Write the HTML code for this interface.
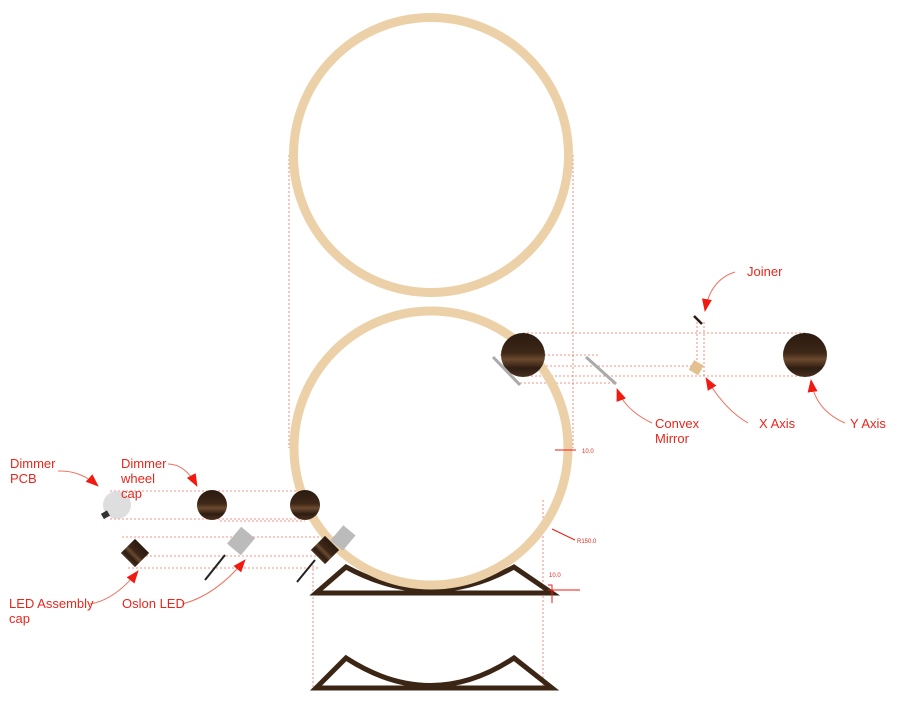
<!DOCTYPE html>
<html><head><meta charset="utf-8"><style>
html,body{margin:0;padding:0;background:#fff}
svg{display:block}
text{font-family:"Liberation Sans",sans-serif;fill:#e8261c}
</style></head><body>
<svg width="900" height="702" viewBox="0 0 900 702">
<defs>
<linearGradient id="wood" x1="0" y1="0" x2="0" y2="1">
<stop offset="0" stop-color="#2a1a10"/><stop offset="0.45" stop-color="#3d2717"/><stop offset="0.6" stop-color="#6b4a2e"/><stop offset="0.8" stop-color="#2e1d12"/><stop offset="1" stop-color="#4a3020"/>
</linearGradient>
<marker id="ah" markerWidth="14" markerHeight="14" refX="12" refY="6" orient="auto" markerUnits="userSpaceOnUse"><path d="M0,1 L13,6 L0,11 Z" fill="#f01a10"/></marker>
</defs>
<g stroke="#f07060" stroke-width="0.8" stroke-dasharray="2,2" fill="none">
<line x1="289" y1="155" x2="289" y2="448"/><line x1="573" y1="155" x2="573" y2="448"/>
<line x1="313" y1="565" x2="313" y2="690"/><line x1="543" y1="500" x2="543" y2="690"/>
<line x1="523" y1="333" x2="805" y2="333"/><line x1="500" y1="355" x2="600" y2="355"/>
<line x1="510" y1="366" x2="700" y2="366"/><line x1="523" y1="376" x2="805" y2="376"/>
<line x1="520" y1="383" x2="615" y2="383"/><line x1="697" y1="318" x2="697" y2="366"/><line x1="704" y1="322" x2="704" y2="376"/>
<line x1="110" y1="491" x2="305" y2="491"/><line x1="110" y1="519" x2="305" y2="519"/>
<line x1="220" y1="521" x2="305" y2="521"/><line x1="245" y1="537" x2="350" y2="537"/>
<line x1="122" y1="537" x2="235" y2="537"/><line x1="138" y1="556" x2="320" y2="556"/><line x1="128" y1="568" x2="320" y2="568"/>
</g>
<path d="M316,593 L346,567 Q431,613 514,567 L552,593 Z" fill="none" stroke="#3b2616" stroke-width="5" stroke-linejoin="miter"/>
<path d="M316,688 L346,658 Q431,713 514,658 L552,688 Z" fill="none" stroke="#3b2616" stroke-width="5"/>
<circle cx="431" cy="155" r="137.5" fill="none" stroke="#ecd1a8" stroke-width="9"/>
<circle cx="431" cy="448" r="137" fill="none" stroke="#ecd1a8" stroke-width="9"/>
<g>
<circle cx="117" cy="505" r="14" fill="#dedede"/>
<rect x="102" y="512" width="7" height="6" fill="#333" transform="rotate(-30 105 515)"/>
<circle cx="212" cy="505" r="15" fill="url(#wood)"/>
<circle cx="305" cy="505" r="15" fill="url(#wood)"/>
<rect x="125" y="543" width="20" height="20" fill="url(#wood)" transform="rotate(45 135 553)"/>
<rect x="232" y="530" width="18" height="22" fill="#bbb" transform="rotate(40 241 541)"/>
<line x1="225" y1="555" x2="205" y2="580" stroke="#222" stroke-width="2"/>
<rect x="315" y="540" width="20" height="20" fill="url(#wood)" transform="rotate(45 325 550)"/>
<rect x="335" y="528" width="16" height="20" fill="#bbb" transform="rotate(40 343 538)"/>
<line x1="315" y1="560" x2="297" y2="582" stroke="#222" stroke-width="2"/>
<circle cx="523" cy="355" r="22" fill="url(#wood)"/>
<line x1="493" y1="357" x2="520" y2="385" stroke="#aaa" stroke-width="3"/>
<line x1="586" y1="357" x2="616" y2="384" stroke="#aaa" stroke-width="3"/>
<rect x="691" y="362" width="11" height="11" fill="#e2c08f" transform="rotate(30 696 367)"/>
<line x1="694" y1="316" x2="702" y2="324" stroke="#2a1a10" stroke-width="2.5"/>
<circle cx="805" cy="355" r="22" fill="url(#wood)"/>
</g>
<g stroke="#f07060" stroke-width="1" fill="none">
<path d="M58,471 Q80,470 98,486" marker-end="url(#ah)"/>
<path d="M168,464 Q185,464 197,486" marker-end="url(#ah)"/>
<path d="M90,604 Q115,600 138,571" marker-end="url(#ah)"/>
<path d="M182,604 Q215,596 245,560" marker-end="url(#ah)"/>
<path d="M735,272 Q710,280 705,311" marker-end="url(#ah)"/>
<path d="M652,423 Q625,410 617,389" marker-end="url(#ah)"/>
<path d="M748,423 Q725,410 706,378" marker-end="url(#ah)"/>
<path d="M845,423 Q815,410 811,380" marker-end="url(#ah)"/>
<path d="M576,450 L555,450 M575,540 L552,529" stroke="#f01a10"/>
<path d="M548,585 L552,585 L552,603 M548,590 L580,590" stroke="#f01a10"/>
</g>
<g font-size="13">
<text x="10" y="468">Dimmer</text><text x="10" y="483">PCB</text>
<text x="121" y="468">Dimmer</text><text x="121" y="483">wheel</text><text x="121" y="498">cap</text>
<text x="9" y="608">LED Assembly</text><text x="9" y="623">cap</text>
<text x="122" y="608">Oslon LED</text>
<text x="747" y="276">Joiner</text>
<text x="655" y="428">Convex</text><text x="655" y="443">Mirror</text>
<text x="759" y="428">X Axis</text>
<text x="850" y="428">Y Axis</text>
<text x="582" y="453" font-size="6">10.0</text>
<text x="577" y="543" font-size="6">R150.0</text>
<text x="549" y="577" font-size="6">10.0</text>
</g>
</svg>
</body></html>
